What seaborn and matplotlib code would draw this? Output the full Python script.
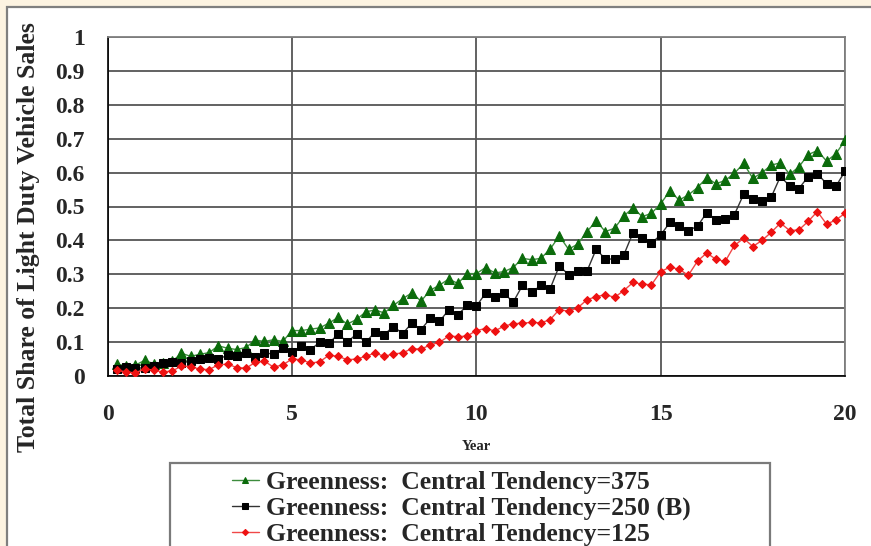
import matplotlib
matplotlib.use("Agg")
import matplotlib.pyplot as plt
from matplotlib.patches import Rectangle
import seaborn as sns
import pandas as pd

# ---------------- data ----------------
years = [0.25, 0.5, 0.75, 1.0, 1.25, 1.5, 1.75, 2.0, 2.25, 2.5,
         2.75, 3.0, 3.25, 3.5, 3.75, 4.0, 4.25, 4.5, 4.75, 5.0,
         5.25, 5.5, 5.75, 6.0, 6.25, 6.5, 6.75, 7.0, 7.25, 7.5,
         7.75, 8.0, 8.25, 8.5, 8.75, 9.0, 9.25, 9.5, 9.75, 10.0,
         10.25, 10.5, 10.75, 11.0, 11.25, 11.5, 11.75, 12.0, 12.25, 12.5,
         12.75, 13.0, 13.25, 13.5, 13.75, 14.0, 14.25, 14.5, 14.75, 15.0,
         15.25, 15.5, 15.75, 16.0, 16.25, 16.5, 16.75, 17.0, 17.25, 17.5,
         17.75, 18.0, 18.25, 18.5, 18.75, 19.0, 19.25, 19.5, 19.75, 20.0]

green_375 = [0.035, 0.030, 0.032, 0.046, 0.036, 0.037, 0.043, 0.067, 0.058, 0.064,
             0.069, 0.089, 0.082, 0.078, 0.084, 0.106, 0.102, 0.107, 0.102, 0.134,
             0.134, 0.138, 0.142, 0.156, 0.173, 0.153, 0.167, 0.189, 0.195, 0.186,
             0.208, 0.228, 0.245, 0.221, 0.253, 0.268, 0.286, 0.273, 0.302, 0.302,
             0.320, 0.304, 0.308, 0.320, 0.347, 0.343, 0.347, 0.374, 0.413, 0.374,
             0.389, 0.426, 0.457, 0.426, 0.436, 0.472, 0.496, 0.470, 0.480, 0.508,
             0.546, 0.519, 0.534, 0.556, 0.585, 0.567, 0.577, 0.598, 0.627, 0.583,
             0.600, 0.622, 0.629, 0.595, 0.617, 0.653, 0.665, 0.634, 0.655, 0.695]

black_250 = [0.022, 0.027, 0.023, 0.024, 0.029, 0.037, 0.040, 0.037, 0.045, 0.050,
             0.052, 0.050, 0.061, 0.058, 0.067, 0.055, 0.069, 0.064, 0.083, 0.072,
             0.088, 0.077, 0.100, 0.096, 0.124, 0.100, 0.124, 0.099, 0.130, 0.122,
             0.146, 0.125, 0.156, 0.137, 0.170, 0.161, 0.195, 0.181, 0.208, 0.206,
             0.244, 0.232, 0.244, 0.218, 0.267, 0.247, 0.267, 0.257, 0.325, 0.299,
             0.309, 0.309, 0.374, 0.345, 0.345, 0.357, 0.423, 0.406, 0.392, 0.416,
             0.453, 0.442, 0.429, 0.442, 0.482, 0.461, 0.463, 0.476, 0.536, 0.521,
             0.515, 0.528, 0.589, 0.560, 0.553, 0.588, 0.597, 0.567, 0.559, 0.604]

red_125 = [0.017, 0.012, 0.009, 0.021, 0.017, 0.012, 0.015, 0.029, 0.028, 0.020,
           0.019, 0.033, 0.035, 0.025, 0.023, 0.040, 0.044, 0.026, 0.033, 0.050,
           0.048, 0.038, 0.042, 0.061, 0.058, 0.048, 0.050, 0.058, 0.068, 0.058,
           0.065, 0.068, 0.081, 0.079, 0.092, 0.099, 0.118, 0.116, 0.118, 0.134,
           0.140, 0.133, 0.147, 0.154, 0.156, 0.158, 0.157, 0.166, 0.196, 0.191,
           0.201, 0.225, 0.234, 0.240, 0.232, 0.252, 0.276, 0.271, 0.269, 0.308,
           0.321, 0.315, 0.297, 0.339, 0.363, 0.344, 0.338, 0.385, 0.406, 0.382,
           0.400, 0.424, 0.451, 0.429, 0.431, 0.456, 0.485, 0.448, 0.460, 0.480]

series_labels = ["Greenness:  Central Tendency=375",
                 "Greenness:  Central Tendency=250 (B)",
                 "Greenness:  Central Tendency=125"]

x_ticks = [0, 5, 10, 15, 20]
x_tick_labels = ["0", "5", "10", "15", "20"]
y_ticks = [0, 0.1, 0.2, 0.3, 0.4, 0.5, 0.6, 0.7, 0.8, 0.9, 1.0]
y_tick_labels = ["0", "0.1", "0.2", "0.3", "0.4", "0.5", "0.6", "0.7", "0.8", "0.9", "1"]
x_label = "Year"
y_label = "Total Share of Light Duty Vehicle Sales"

# ---------------- style ----------------
sns.set_style("white")
plt.rcParams["font.family"] = ["Liberation Serif", "DejaVu Serif"]
plt.rcParams["font.weight"] = "bold"

W, H = 871, 546
fig = plt.figure(figsize=(W / 100, H / 100), dpi=100)
fig.patch.set_facecolor("#FCF3E1")

# white slide panel with grey border
fig.add_artist(Rectangle((6.5 / W, -0.2), 1.2, 1.2 - 6.5 / H,
                         transform=fig.transFigure, facecolor="white",
                         edgecolor="#7f7f7f", linewidth=1.6, zorder=0))

ax = fig.add_axes([107.7 / W, (H - 376) / H, (845 - 107.7) / W, (376 - 37) / H])
ax.set_facecolor("white")

df = pd.DataFrame({"year": years, "g": green_375, "b": black_250, "r": red_125})

sns.lineplot(data=df, x="year", y="g", ax=ax, color="#3d8c3d", linewidth=1.0,
             marker="^", markersize=6.5, markerfacecolor="#0b6b0b",
             markeredgecolor="#0b6b0b", label=series_labels[0], zorder=3)
sns.lineplot(data=df, x="year", y="b", ax=ax, color="#333333", linewidth=1.0,
             marker="s", markersize=5.2, markerfacecolor="black",
             markeredgecolor="black", label=series_labels[1], zorder=3)
sns.lineplot(data=df, x="year", y="r", ax=ax, color="#f04848", linewidth=1.0,
             marker="D", markersize=4.2, markerfacecolor="#ee1111",
             markeredgecolor="#ee1111", label=series_labels[2], zorder=3)

ax.set_xlim(0, 20)
ax.set_ylim(0, 1)
ax.set_xticks(x_ticks)
ax.set_xticklabels(x_tick_labels)
ax.set_yticks(y_ticks)
ax.set_yticklabels(y_tick_labels)
ax.set_xlabel("")
ax.set_ylabel("")

ax.grid(True, color="#555555", linewidth=1.3, zorder=1)
ax.set_axisbelow(True)

for s in ["left", "bottom"]:
    ax.spines[s].set_color("black")
    ax.spines[s].set_linewidth(1.2)
for s in ["top", "right"]:
    ax.spines[s].set_color("#808080")
    ax.spines[s].set_linewidth(1.3)

ax.tick_params(axis="both", direction="out", length=6.5, width=1.0, color="black",
               labelsize=17)
ax.tick_params(axis="y", pad=10)
ax.tick_params(axis="x", pad=14)
for lab in ax.get_xticklabels() + ax.get_yticklabels():
    lab.set_fontweight("bold")

fig.text(28.5 / W, 1 - 237 / H, y_label, rotation=90, ha="center", va="center",
         fontsize=18.5, fontweight="bold")
fig.text(476 / W, 1 - 447 / H, x_label, ha="center", va="center",
         fontsize=10.5, fontweight="bold")

# legend box (extends past the bottom edge as in the reference)
fig.add_artist(Rectangle((170 / W, -0.1), (770 - 170) / W, 0.1 + (H - 463) / H,
                         transform=fig.transFigure, facecolor="white",
                         edgecolor="#7a7a7a", linewidth=1.6, zorder=2))

handles, labels = ax.get_legend_handles_labels()
if ax.legend_ is not None:
    ax.legend_.remove()
leg = fig.legend(handles, labels, loc="upper left",
                 bbox_to_anchor=(232 / W, 1 - 471 / H), frameon=False,
                 handlelength=1.05, handletextpad=0.28,
                 labelspacing=0.1, borderpad=0, borderaxespad=0,
                 markerscale=0.75, prop={"weight": "bold", "size": 18.5})
leg.set_zorder(3)

fig.savefig("out.png", dpi=100, facecolor=fig.get_facecolor())
